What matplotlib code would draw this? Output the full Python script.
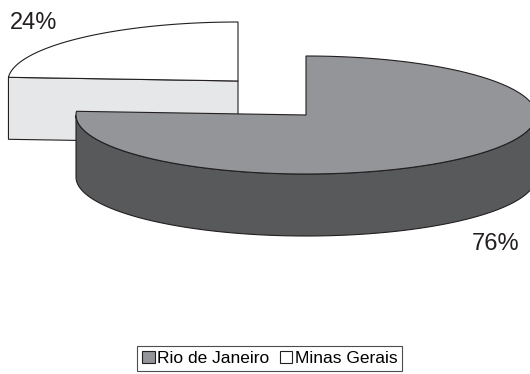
import numpy as np
import matplotlib.pyplot as plt
from matplotlib.patches import Polygon, Patch

labels = ['Rio de Janeiro', 'Minas Gerais']
shares = [76, 24]
pct_text = ['76%', '24%']

top_colors = ['#939598', '#ffffff']
side_colors = ['#58595b', '#e6e7e8']
edge = '#231f20'

plt.rcParams['font.family'] = ['Liberation Sans', 'DejaVu Sans']

fig = plt.figure(figsize=(5.30, 3.74), dpi=100)
ax = fig.add_axes([0, 0, 1, 1])
ax.set_xlim(0, 530)
ax.set_ylim(374, 0)
ax.axis('off')

rx, ry, depth = 230, 59, 62
# slice centres (exploded), in pixels
centers = {'Rio de Janeiro': (306, 115), 'Minas Gerais': (238, 81)}


def pt(c, t, dy=0):
    return (c[0] + rx * np.cos(t), c[1] - ry * np.sin(t) + dy)


def arc(c, t0, t1, dy=0, n=200):
    t = np.linspace(t0, t1, n)
    return np.column_stack([c[0] + rx * np.cos(t), c[1] - ry * np.sin(t) + dy])


# angles: Minas starts at 12 o'clock going counter-clockwise, Rio takes the rest
mg_span = np.deg2rad(shares[1] * 3.6)
mg_t0, mg_t1 = np.pi / 2, np.pi / 2 + mg_span
rj_t0, rj_t1 = mg_t1, np.pi / 2 + 2 * np.pi

# --- Minas Gerais (back slice) ---
c = centers['Minas Gerais']
p = pt(c, mg_t1)
face = [c, p, (p[0], p[1] + depth), (c[0], c[1] + depth)]
ax.add_patch(Polygon(face, closed=True, fc=side_colors[1], ec=edge, lw=0.8))
top = np.vstack([[c], arc(c, mg_t0, mg_t1)])
ax.add_patch(Polygon(top, closed=True, fc=top_colors[1], ec=edge, lw=0.8))

# --- Rio de Janeiro (front slice) ---
c = centers['Rio de Janeiro']
s0, s1 = max(rj_t0, np.pi), 2 * np.pi
side = np.vstack([arc(c, s0, s1), arc(c, s1, s0, dy=depth)])
ax.add_patch(Polygon(side, closed=True, fc=side_colors[0], ec=edge, lw=0.8))
top = np.vstack([[c], arc(c, rj_t0, rj_t1)])
ax.add_patch(Polygon(top, closed=True, fc=top_colors[0], ec=edge, lw=0.8))

# percentage labels
ax.text(10, 23, pct_text[1], fontsize=17, color=edge, ha='left', va='center')
ax.text(519, 244, pct_text[0], fontsize=17, color=edge, ha='right', va='center')

handles = [Patch(fc=top_colors[i], ec=edge, lw=0.8, label=labels[i]) for i in range(2)]
leg = fig.legend(handles=handles, loc='lower center', bbox_to_anchor=(0.509, 0.0),
                 ncol=2, fontsize=12.5, frameon=True, fancybox=False,
                 edgecolor=edge, handlelength=0.7, handleheight=0.7,
                 handletextpad=0.15, columnspacing=0.6, borderpad=0.3,
                 borderaxespad=0.15)
leg.get_frame().set_linewidth(0.8)

fig.savefig('out.png', dpi=100)
